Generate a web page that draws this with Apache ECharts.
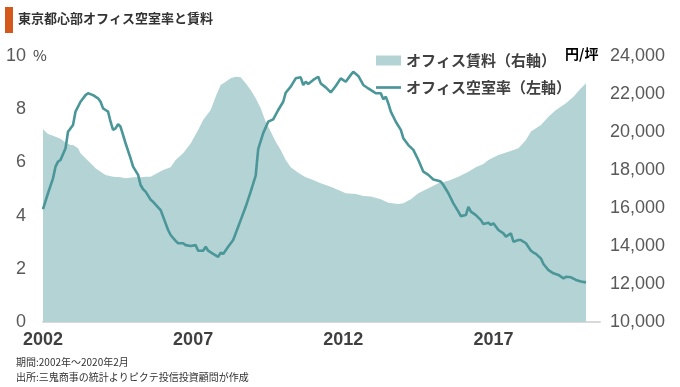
<!DOCTYPE html>
<html>
<head>
<meta charset="utf-8">
<script src="https://cdn.jsdelivr.net/npm/echarts@6/dist/echarts.min.js"></script>
<style>
html,body{margin:0;padding:0;background:#fff;}
#chart{width:680px;height:387px;}
</style>
</head>
<body>
<div id="chart"></div>
<script>
// ---- data ----
const vacancyDates = ['2002-01','2002-03','2002-05','2002-06','2002-07','2002-08','2002-10','2002-11','2003-01','2003-02','2003-04','2003-06','2003-07','2003-09','2003-11','2003-12','2004-01','2004-02','2004-03','2004-04','2004-05','2004-06','2004-07','2004-08','2004-10','2004-12','2005-01','2005-03','2005-04','2005-05','2005-06','2005-08','2005-09','2005-12','2006-01','2006-03','2006-04','2006-06','2006-07','2006-09','2006-10','2006-12','2007-02','2007-03','2007-05','2007-06','2007-07','2007-09','2007-11','2007-12','2008-01','2008-03','2008-05','2008-07','2008-08','2008-10','2008-12','2009-02','2009-03','2009-05','2009-07','2009-09','2009-11','2010-01','2010-02','2010-04','2010-06','2010-08','2010-09','2010-10','2010-11','2011-01','2011-03','2011-04','2011-06','2011-08','2011-10','2011-12','2012-02','2012-04','2012-05','2012-07','2012-09','2012-11','2013-01','2013-02','2013-04','2013-05','2013-06','2013-07','2013-08','2013-10','2013-12','2014-01','2014-03','2014-05','2014-07','2014-09','2014-11','2015-01','2015-03','2015-04','2015-05','2015-07','2015-09','2015-11','2015-12','2016-02','2016-03','2016-04','2016-06','2016-08','2016-09','2016-11','2016-12','2017-01','2017-03','2017-05','2017-06','2017-08','2017-09','2017-11','2017-12','2018-02','2018-04','2018-05','2018-06','2018-08','2018-09','2018-11','2019-01','2019-03','2019-05','2019-06','2019-08','2019-10','2019-12','2020-02'];
const vacancyValues = [4.24,4.84,5.40,5.84,6.03,6.09,6.53,7.15,7.41,7.91,8.28,8.53,8.60,8.53,8.41,8.28,8.03,7.97,7.91,7.53,7.22,7.28,7.44,7.34,6.72,6.15,5.84,5.53,5.15,4.99,4.90,4.60,4.52,4.21,3.96,3.46,3.27,3.05,2.96,2.96,2.89,2.86,2.89,2.68,2.68,2.83,2.68,2.56,2.45,2.61,2.56,2.83,3.08,3.58,3.83,4.33,4.90,5.50,6.50,7.10,7.53,7.62,7.97,8.28,8.62,8.85,9.16,9.20,8.91,9.03,8.95,9.10,9.22,8.97,8.82,8.63,8.87,9.16,9.03,9.29,9.41,9.25,8.91,8.78,8.66,8.60,8.60,8.37,8.47,8.22,7.91,7.53,7.22,6.91,6.65,6.47,6.09,5.65,5.53,5.36,5.31,5.27,5.15,4.84,4.46,4.15,3.98,4.02,4.33,4.15,4.02,3.83,3.68,3.73,3.65,3.71,3.46,3.33,3.21,3.33,3.02,3.08,3.08,2.96,2.68,2.61,2.56,2.39,2.18,1.95,1.83,1.77,1.64,1.70,1.68,1.58,1.52,1.49];

const rentDates = ['2002-01','2002-03','2002-05','2002-08','2002-10','2002-12','2003-01','2003-03','2003-04','2003-06','2003-08','2003-10','2003-12','2004-02','2004-05','2004-08','2004-10','2005-01','2005-04','2005-06','2005-08','2005-10','2006-01','2006-04','2006-06','2006-09','2006-12','2007-03','2007-05','2007-08','2007-10','2007-12','2008-02','2008-04','2008-06','2008-08','2008-10','2008-12','2009-02','2009-04','2009-06','2009-08','2009-10','2009-12','2010-02','2010-04','2010-07','2010-10','2011-01','2011-04','2011-08','2011-11','2012-02','2012-06','2012-09','2012-12','2013-04','2013-07','2013-11','2014-01','2014-04','2014-07','2014-11','2015-03','2015-07','2015-11','2016-03','2016-06','2016-09','2016-11','2017-03','2017-07','2017-11','2018-02','2018-04','2018-08','2018-11','2019-02','2019-06','2019-09','2019-12','2020-02'];
const rentValues = [20150,19900,19800,19650,19450,19320,19320,19140,18880,18620,18350,18090,17910,17740,17650,17620,17560,17620,17620,17650,17650,17790,18000,18140,18530,18880,19400,20100,20630,21160,21860,22470,22650,22830,22910,22880,22560,22210,21770,21250,20540,20020,19490,19050,18530,18140,17860,17620,17470,17300,17120,16950,16770,16740,16630,16600,16460,16280,16210,16250,16460,16770,17040,17300,17440,17650,17910,18140,18320,18530,18790,18960,19140,19580,20020,20370,20800,21160,21510,21860,22300,22560];

const yearLabels = [2002, 2007, 2012, 2017];
const leftTicks = { min: 0, max: 10, step: 2 };
const rightTicks = { min: 10000, max: 24000, step: 2000 };

const titleText = '東京都心部オフィス空室率と賃料';
const rentName = 'オフィス賃料（右軸）';
const vacancyName = 'オフィス空室率（左軸）';
const note1 = '期間:2002年～2020年2月';
const note2 = '出所:三鬼商事の統計よりピクテ投信投資顧問が作成';

// ---- helpers ----
function toYear(s) {
  const [y, m] = s.split('-').map(Number);
  return y + (m - 1) / 12;
}
const vacancyData = vacancyDates.map((d, i) => [toYear(d), vacancyValues[i]]);
const rentData = rentDates.map((d, i) => [toYear(d), rentValues[i]]);

const numFont = '"Liberation Sans Narrow", "Liberation Sans", Arial, sans-serif';
const cjkFont = '"Noto Sans CJK JP", "Noto Sans", sans-serif';

// thin horizontal bar centred in the legend icon box
const lineIcon = 'path://M0,0 L0,0 M0,3.6 L26,3.6 L26,6.4 L0,6.4 Z M0,10 L0,10';

const chart = echarts.init(document.getElementById('chart'), null, { renderer: 'canvas' });
chart.setOption({
  animation: false,
  backgroundColor: '#ffffff',
  grid: { left: 43, right: 80, top: 56, bottom: 65, containLabel: false },
  legend: {
    orient: 'vertical',
    left: 371,
    top: 48,
    itemWidth: 25,
    itemHeight: 10,
    itemGap: 12,
    textStyle: { fontFamily: cjkFont, fontSize: 15, color: '#404040', fontWeight: 'bold' },
    data: [
      { name: rentName, icon: 'rect' },
      { name: vacancyName, icon: lineIcon }
    ]
  },
  xAxis: {
    type: 'value',
    min: 2002,
    max: 2020.55,
    axisLine: { show: true, lineStyle: { color: '#d9d9d9', width: 2 } },
    axisTick: { show: false },
    splitLine: { show: false },
    axisLabel: {
      customValues: yearLabels,
      formatter: v => String(Math.round(v)),
      fontFamily: numFont,
      fontSize: 18,
      fontWeight: 'bold',
      color: '#404040',
      margin: 9
    }
  },
  yAxis: [
    {
      type: 'value',
      min: leftTicks.min,
      max: leftTicks.max,
      interval: leftTicks.step,
      position: 'left',
      axisLine: { show: false },
      axisTick: { show: false },
      splitLine: { show: false },
      axisLabel: { fontFamily: numFont, fontSize: 18, color: '#595959', margin: 17 }
    },
    {
      type: 'value',
      min: rightTicks.min,
      max: rightTicks.max,
      interval: rightTicks.step,
      position: 'right',
      axisLine: { show: false },
      axisTick: { show: false },
      splitLine: { show: false },
      axisLabel: {
        fontFamily: numFont, fontSize: 18, color: '#595959', margin: 10,
        formatter: v => Number(v).toLocaleString('en-US')
      }
    }
  ],
  series: [
    {
      name: rentName,
      type: 'line',
      yAxisIndex: 1,
      data: rentData,
      symbol: 'none',
      smooth: false,
      color: '#b4d3d5',
      lineStyle: { width: 0, color: '#b4d3d5' },
      areaStyle: { color: '#b4d3d5', opacity: 1, origin: 'start' },
      z: 1
    },
    {
      name: vacancyName,
      type: 'line',
      yAxisIndex: 0,
      data: vacancyData,
      symbol: 'none',
      showSymbol: false,
      smooth: false,
      color: '#4a9698',
      lineStyle: { width: 2.6, color: '#4a9698' },
      z: 3
    }
  ],
  graphic: [
    { type: 'rect', left: 5, top: 7, shape: { width: 8, height: 26 }, style: { fill: '#d4581c' } },
    { type: 'text', left: 18, top: 12, style: { text: titleText, font: 'bold 13px ' + cjkFont, fill: '#333333' } },
    { type: 'text', left: 33, top: 48, style: { text: '%', font: '15px ' + cjkFont, fill: '#404040' } },
    { type: 'text', left: 565, top: 47, style: { text: '円/坪', font: 'bold 14px ' + cjkFont, fill: '#000000' } },
    { type: 'text', left: 16, top: 357, style: { text: note1, font: '10px ' + cjkFont, fill: '#333333' } },
    { type: 'text', left: 16, top: 372, style: { text: note2, font: '10px ' + cjkFont, fill: '#333333' } }
  ]
});
</script>
</body>
</html>
